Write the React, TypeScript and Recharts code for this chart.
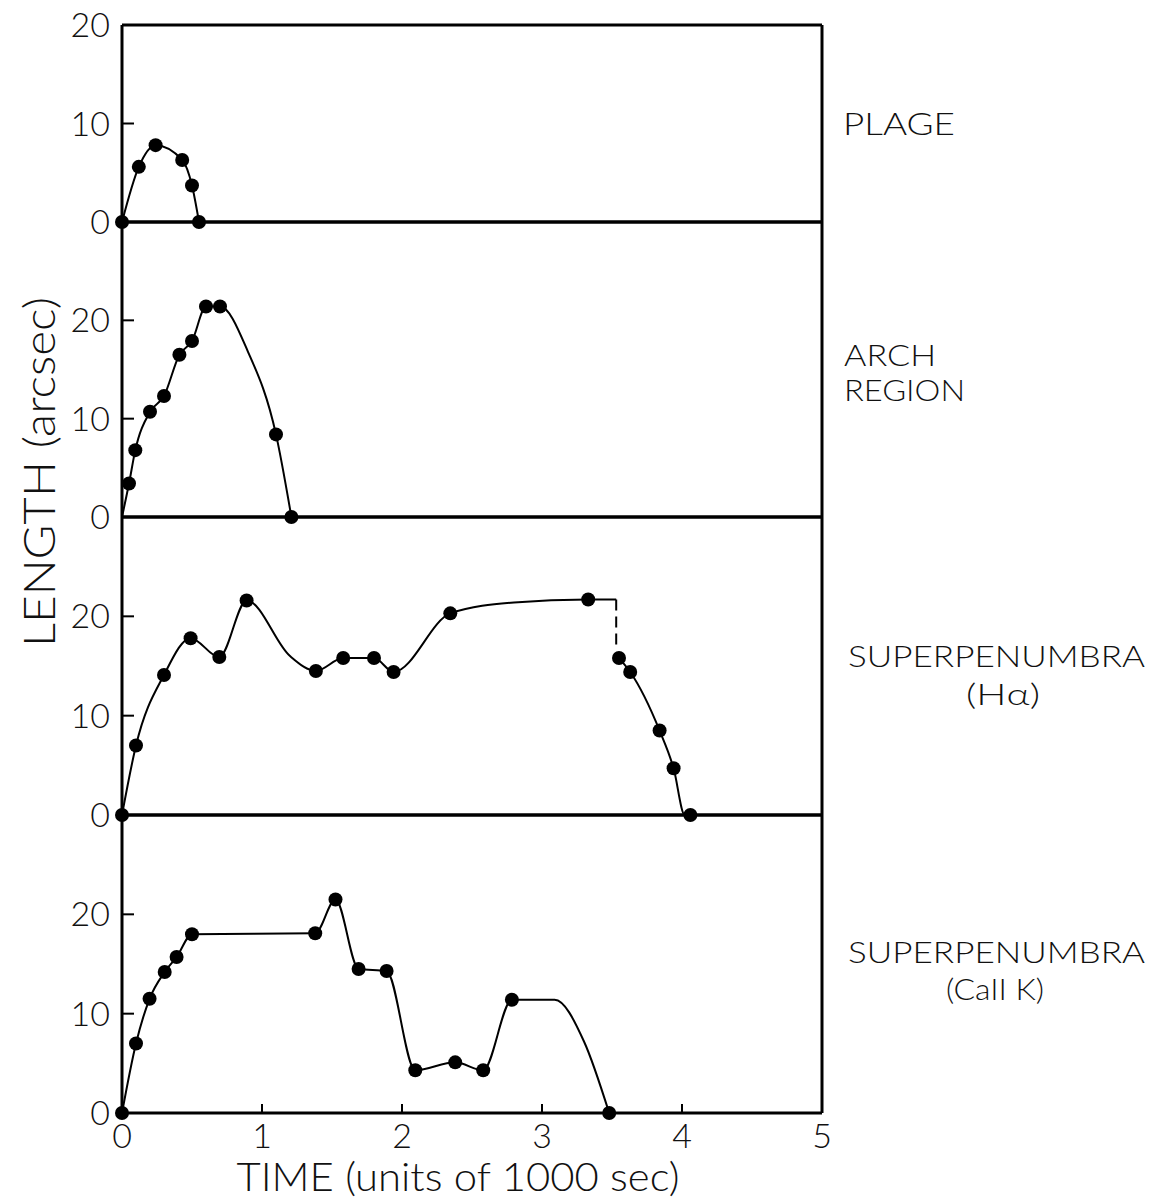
import { ComposedChart, Line, XAxis, YAxis } from "recharts";

const W = 1154;
const H = 1200;
const FONT = "Lato, 'Liberation Sans', sans-serif";

const timeTicks = [0, 1, 2, 3, 4, 5];

// PLAGE
const plageTime = [0, 0.12, 0.24, 0.43, 0.5, 0.55];
const plageLength = [0, 5.6, 7.8, 6.3, 3.7, 0];

// ARCH REGION
const archTime = [0.05, 0.095, 0.2, 0.3, 0.41, 0.5, 0.6, 0.7, 1.1, 1.21];
const archLength = [3.4, 6.8, 10.7, 12.3, 16.5, 17.9, 21.4, 21.4, 8.4, 0];
// bends of the drawn curve where there is no measurement
const archBendTime = [0, 0.9];
const archBendLength = [0, 16.8];

// SUPERPENUMBRA (H alpha)
const haTime = [0, 0.1, 0.3, 0.49, 0.695, 0.89, 1.385, 1.58, 1.8, 1.94, 2.345, 3.33, 3.55, 3.63, 3.84, 3.94, 4.06];
const haLength = [0, 7.0, 14.1, 17.8, 15.9, 21.6, 14.5, 15.8, 15.8, 14.4, 20.3, 21.7, 15.8, 14.4, 8.5, 4.7, 0];
const haBendTime = [1.2, 2.8, 3.53, 4.02];
const haBendLength = [16.0, 21.4, 21.7, 0];
// the dashed drop after the plateau
const haDropTime = [3.53, 3.53];
const haDropLength = [21.7, 16.6];
const haBreak = 3.54;

// SUPERPENUMBRA (CaII K)
const caTime = [0, 0.1, 0.197, 0.305, 0.39, 0.5, 1.38, 1.525, 1.69, 1.89, 2.095, 2.38, 2.58, 2.785, 3.48];
const caLength = [0, 7.0, 11.5, 14.2, 15.7, 18.0, 18.1, 21.5, 14.5, 14.3, 4.3, 5.1, 4.3, 11.4, 0];
const caBendTime = [3.09, 3.3];
const caBendLength = [11.4, 7.2];

type Pt = { t: number; v: number };

const pts = (t: number[], v: number[]): Pt[] => t.map((x, i) => ({ t: x, v: v[i] }));
const curve = (a: Pt[], b: Pt[]) => [...a, ...b].sort((p, q) => p.t - q.t);

const plageDots = pts(plageTime, plageLength);
const archDots = pts(archTime, archLength);
const haDots = pts(haTime, haLength);
const caDots = pts(caTime, caLength);

const haCurve = curve(haDots, pts(haBendTime, haBendLength));

const panels = [
  {
    top: 25, bottom: 222, yMax: 20, leftTicks: [0, 10, 20], rightTicks: [10],
    curves: [curve(plageDots, [])], dashed: [] as Pt[][], dots: plageDots,
  },
  {
    top: 222, bottom: 517, yMax: 30, leftTicks: [0, 10, 20], rightTicks: [10, 20],
    curves: [curve(archDots, pts(archBendTime, archBendLength))], dashed: [], dots: archDots,
  },
  {
    top: 517, bottom: 815, yMax: 30, leftTicks: [0, 10, 20], rightTicks: [10, 20],
    curves: [haCurve.filter((p) => p.t < haBreak), haCurve.filter((p) => p.t > haBreak)],
    dashed: [pts(haDropTime, haDropLength)], dots: haDots,
  },
  {
    top: 815, bottom: 1113, yMax: 30, leftTicks: [0, 10, 20], rightTicks: [10, 20],
    curves: [curve(caDots, pts(caBendTime, caBendLength))], dashed: [], dots: caDots,
  },
];

const axisLine = { stroke: "#000", strokeWidth: 3 };
const tickLine = { stroke: "#000", strokeWidth: 2 };
const tickText = { fill: "#111", fontSize: 34, fontFamily: FONT, fontWeight: 300 };

const Panel = ({ p, last }: { p: (typeof panels)[number]; last: boolean }) => {
  const topH = 10;
  const botH = last ? 70 : 10;
  return (
    <div style={{ position: "absolute", left: 0, top: 0 }}>
      <ComposedChart
        width={W}
        height={H}
        margin={{ top: p.top - topH, bottom: H - p.bottom - botH, left: 62, right: 322 }}
      >
        <XAxis
          dataKey="t"
          type="number"
          domain={[0, 5]}
          ticks={timeTicks}
          height={botH}
          axisLine={axisLine}
          tickLine={tickLine}
          tickSize={-9}
          tickMargin={20}
          tick={last ? tickText : false}
        />
        <XAxis
          xAxisId="top"
          orientation="top"
          type="number"
          domain={[0, 5]}
          ticks={[1, 2, 3, 4]}
          height={topH}
          axisLine={axisLine}
          tickLine={tickLine}
          tickSize={-9}
          tick={false}
        />
        <YAxis
          dataKey="v"
          type="number"
          domain={[0, p.yMax]}
          ticks={p.leftTicks}
          width={60}
          axisLine={axisLine}
          tickLine={tickLine}
          tickSize={-12}
          tickMargin={24}
          tick={tickText}
        />
        <YAxis
          yAxisId="right"
          orientation="right"
          type="number"
          domain={[0, p.yMax]}
          ticks={p.rightTicks}
          width={10}
          axisLine={axisLine}
          tickLine={tickLine}
          tickSize={-12}
          tick={false}
        />
        {p.curves.map((c, i) => (
          <Line
            key={"c" + i}
            data={c}
            dataKey="v"
            type="monotone"
            stroke="#000"
            strokeWidth={2}
            dot={false}
            activeDot={false}
            isAnimationActive={false}
          />
        ))}
        {p.dashed.map((c, i) => (
          <Line
            key={"d" + i}
            data={c}
            dataKey="v"
            type="linear"
            stroke="#000"
            strokeWidth={2}
            strokeDasharray="11 6"
            dot={false}
            activeDot={false}
            isAnimationActive={false}
          />
        ))}
        <Line
          data={p.dots}
          dataKey="v"
          stroke="none"
          dot={{ r: 7, fill: "#000", stroke: "none" }}
          activeDot={false}
          isAnimationActive={false}
        />
      </ComposedChart>
    </div>
  );
};

const labelStyle = { fontFamily: FONT, fontWeight: 300, fill: "#111", lengthAdjust: "spacingAndGlyphs" } as const;

export default function App() {
  return (
    <div style={{ position: "absolute", left: 0, top: 0, width: W, height: H, background: "#fff" }}>
      {panels.map((p, i) => (
        <Panel key={i} p={p} last={i === panels.length - 1} />
      ))}
      <svg width={W} height={H} style={{ position: "absolute", left: 0, top: 0, pointerEvents: "none" }}>
        <text x={843} y={135} fontSize={31} textLength={112} {...labelStyle}>PLAGE</text>
        <text x={844} y={366} fontSize={30} textLength={92} {...labelStyle}>ARCH</text>
        <text x={844} y={401} fontSize={30} textLength={121} {...labelStyle}>REGION</text>
        <text x={848} y={667} fontSize={30} textLength={297} {...labelStyle}>SUPERPENUMBRA</text>
        <text x={966} y={705} fontSize={30} textLength={74} {...labelStyle}>(Hα)</text>
        <text x={848} y={963} fontSize={30} textLength={297} {...labelStyle}>SUPERPENUMBRA</text>
        <text x={946} y={1000} fontSize={30} textLength={98} {...labelStyle}>(CaII  K)</text>
        <text x={458} y={1191} fontSize={40} textLength={443} {...labelStyle} textAnchor="middle">
          TIME (units of 1000 sec)
        </text>
        <text
          x={0}
          y={0}
          fontSize={43}
          textAnchor="middle"
          textLength={350}
          transform="translate(55 472) rotate(-90)"
          {...labelStyle}
        >
          LENGTH (arcsec)
        </text>
      </svg>
    </div>
  );
}
